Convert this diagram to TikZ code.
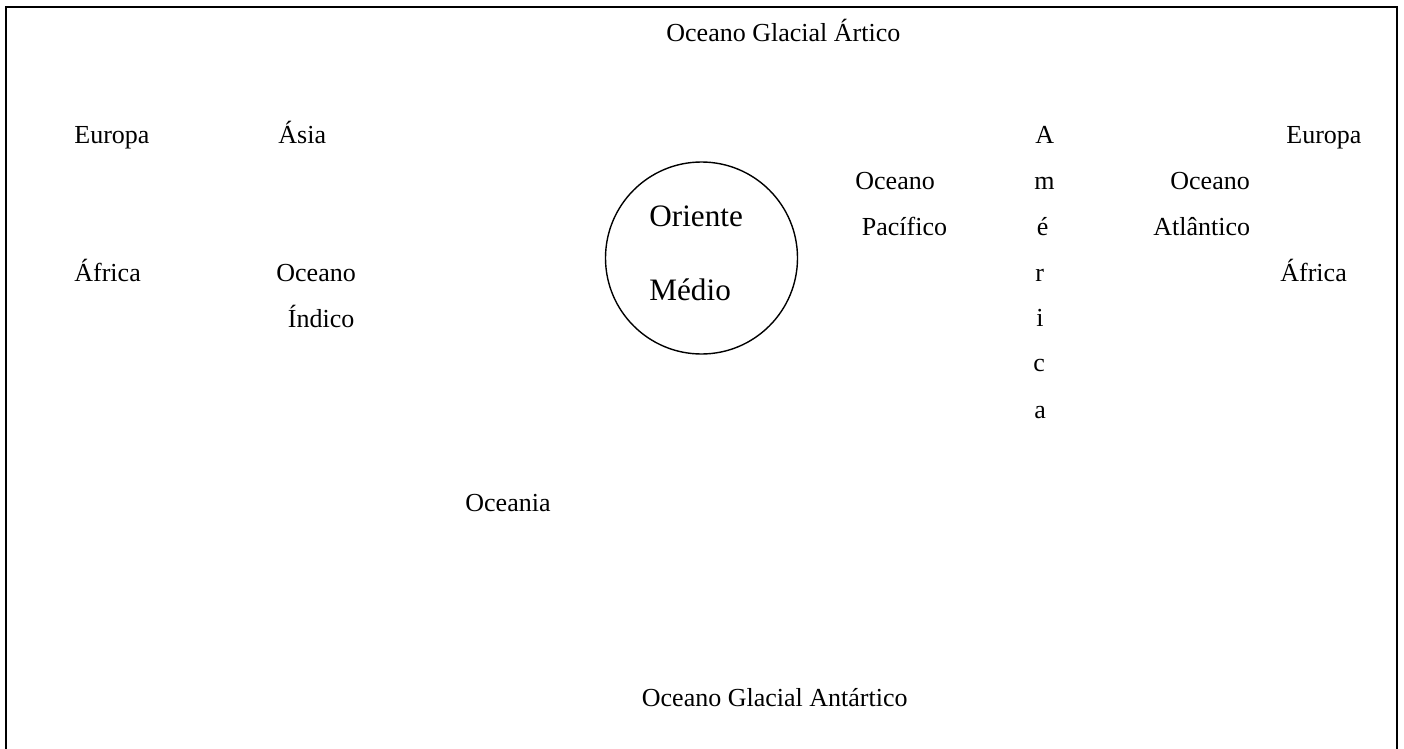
\documentclass[tikz,border=0pt]{standalone}
\usepackage{fontspec}
\setmainfont{Liberation Serif}
\usepackage{tikz}
\usetikzlibrary{positioning}

\begin{document}
\begin{tikzpicture}[
    x=0.5pt, y=-0.5pt,
    txt/.style={anchor=base west, inner sep=0pt, font=\fontsize{13}{15}\selectfont},
    bigtxt/.style={anchor=base west, inner sep=0pt, font=\fontsize{15.6}{18}\selectfont},
    ring/.style={draw, circle, line width=0.7pt, minimum size=96pt, inner sep=0pt},
    frame/.style={line width=1pt}
]
    \useasboundingbox (0,0) rectangle (1404,749);

    % Frame (open at the bottom edge)
    \draw[frame] (5.5,770) -- (5.5,7) -- (1397,7) -- (1397,770);

    % Oceans top and bottom
    \node[txt] (artico) at (666,41.7) {Oceano Glacial Ártico};
    \node[txt] (antartico) at (641.5,706) {Oceano Glacial Antártico};

    % Left side
    \node[txt] (europaL) at (74,144) {Europa};
    \node[txt] (asia) at (278,144) {Ásia};
    \node[txt] (africaL) at (74,281.7) {África};
    \node[txt] (oceanoI) at (276,281.7) {Oceano};
    \node[txt] (indico) at (287.5,327) {Índico};
    \node[txt] (oceania) at (465,511) {Oceania};

    % Centre
    \node[ring] (medio) at (701.5,258) {};
    \node[bigtxt] (orienteT) at (649,226.7) {Oriente};
    \node[bigtxt] (medioT) at (649,300.7) {Médio};

    % Pacific
    \node[txt] (oceanoP) at (855,190) {Oceano};
    \node[txt] (pacifico) at (861.5,235) {Pacífico};

    % America, one letter per line
    \node[txt] (amA) at (1035,143.3) {A};
    \node[txt] (amM) at (1034,190) {m};
    \node[txt] (amE) at (1036.5,235) {é};
    \node[txt] (amR) at (1035,281.7) {r};
    \node[txt] (amI) at (1036,326.7) {i};
    \node[txt] (amC) at (1033,371.7) {c};
    \node[txt] (amA2) at (1034,418) {a};

    % Atlantic and right side
    \node[txt] (oceanoA) at (1170,190) {Oceano};
    \node[txt] (atlantico) at (1153,235) {Atlântico};
    \node[txt] (europaR) at (1286,144) {Europa};
    \node[txt] (africaR) at (1280,281.7) {África};
\end{tikzpicture}
\end{document}
